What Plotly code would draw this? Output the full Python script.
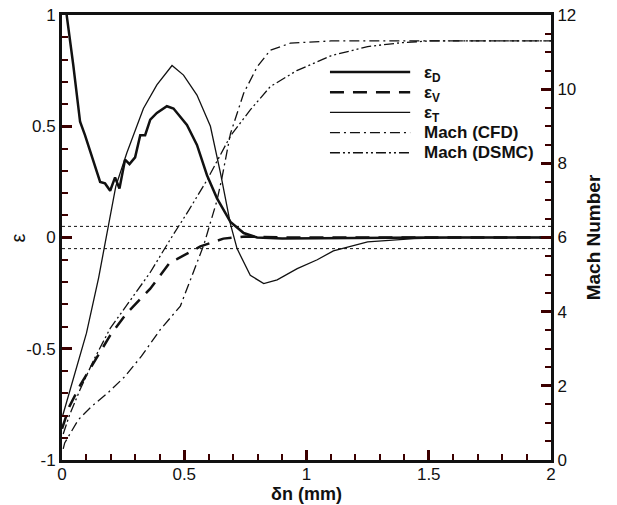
import plotly.graph_objects as go

# ---- data ----
x_D = [0.005, 0.019, 0.046, 0.074, 0.094, 0.115, 0.156, 0.176, 0.197, 0.217, 0.235, 0.258, 0.276,
       0.299, 0.320, 0.340, 0.361, 0.388, 0.429, 0.456, 0.511, 0.552, 0.593, 0.634, 0.689, 0.743,
       0.798, 0.9, 1.0, 1.2, 1.5, 2.0]
eps_D = [1.3, 1.0, 0.776, 0.52, 0.46, 0.39, 0.25, 0.243, 0.21, 0.27, 0.22, 0.35, 0.33,
         0.36, 0.46, 0.46, 0.53, 0.56, 0.59, 0.58, 0.506, 0.416, 0.28, 0.176, 0.07, 0.02,
         0.0, -0.005, -0.004, 0.0, 0.0, 0.0]

x_V = [0.0, 0.03, 0.074, 0.197, 0.265, 0.361, 0.443, 0.47, 0.566, 0.66, 0.75, 0.9, 1.2, 2.0]
eps_V = [-0.86, -0.76, -0.665, -0.44, -0.34, -0.23, -0.11, -0.097, -0.04, -0.005, 0.005, 0.0, 0.0, 0.0]

x_T = [0.003, 0.05, 0.1, 0.15, 0.176, 0.2, 0.22, 0.265, 0.333, 0.388, 0.45, 0.497, 0.552, 0.607,
       0.648, 0.689, 0.716, 0.77, 0.825, 0.88, 0.962, 1.044, 1.11, 1.25, 1.44, 1.6, 2.0]
eps_T = [-0.8, -0.62, -0.43, -0.18, -0.03, 0.12, 0.23, 0.38, 0.58, 0.686, 0.773, 0.73, 0.64, 0.5,
         0.29, 0.06, -0.05, -0.17, -0.207, -0.19, -0.14, -0.1, -0.06, -0.02, -0.005, 0.0, 0.0]

x_cfd = [0.005, 0.011, 0.066, 0.12, 0.189, 0.257, 0.325, 0.40, 0.484, 0.525, 0.58, 0.634, 0.654,
         0.689, 0.743, 0.798, 0.852, 0.934, 1.1, 1.5, 2.0]
M_cfd = [0.3, 0.46, 1.08, 1.44, 1.82, 2.25, 2.8, 3.5, 4.15, 4.85, 5.8, 7.0, 7.6,
         8.8, 9.89, 10.6, 11.05, 11.24, 11.3, 11.3, 11.3]

x_dsmc = [0.005, 0.03, 0.074, 0.13, 0.197, 0.279, 0.36, 0.443, 0.52, 0.593, 0.69, 0.77, 0.852,
          0.96, 1.1, 1.25, 1.385, 1.5, 2.0]
M_dsmc = [0.7, 1.2, 1.9, 2.7, 3.55, 4.3, 5.05, 5.95, 6.75, 7.55, 8.75, 9.44, 10.07,
          10.5, 10.9, 11.15, 11.25, 11.3, 11.3]

band_x = [0.0, 2.0]
band_levels = [0.05, -0.05]

y_ticks = [-1, -0.5, 0, 0.5, 1]
y_ticktext = ["-1", "-0.5", "0", "0.5", "1"]

series_names = ["ε<sub>D</sub>", "ε<sub>V</sub>", "ε<sub>T</sub>", "Mach (CFD)", "Mach (DSMC)"]

FONT = "Liberation Sans, Arial, sans-serif"
INK = "#111111"
TICK = "rgb(60,0,0)"

styles = [
    dict(color=INK, width=2.5),
    dict(color=INK, width=2.5, dash="14px,9px"),
    dict(color=INK, width=1.3),
    dict(color=INK, width=1.3, dash="10px,4px,2px,4px"),
    dict(color=INK, width=1.3, dash="10px,3px,2px,3px,2px,3px"),
]

fig = go.Figure()

for lvl in band_levels:
    fig.add_trace(go.Scatter(x=band_x, y=[lvl, lvl], mode="lines", showlegend=False,
                             line=dict(color=INK, width=1, dash="dot"), hoverinfo="skip"))

series = [(x_D, eps_D, "y"), (x_V, eps_V, "y"), (x_T, eps_T, "y"),
          (x_cfd, M_cfd, "y2"), (x_dsmc, M_dsmc, "y2")]
for (xs, ys, ax), nm, st in zip(series, series_names, styles):
    fig.add_trace(go.Scatter(x=xs, y=ys, mode="lines", name=nm, yaxis=ax, line=st,
                             showlegend=False))

# legend drawn as a key (line samples + labels) in paper coordinates
key_x0, key_x1, key_text_x = 0.548, 0.712, 0.736
key_top, key_step = 0.872, 0.0454
for i, (nm, st) in enumerate(zip(series_names, styles)):
    yk = key_top - i * key_step
    fig.add_shape(type="line", xref="paper", yref="paper", x0=key_x0, x1=key_x1, y0=yk, y1=yk,
                  line=st, opacity=1)
    fig.add_annotation(xref="paper", yref="paper", x=key_text_x, y=yk - (0.004 if i < 3 else 0),
                       text="<b>" + nm + "</b>", showarrow=False, xanchor="left", yanchor="middle",
                       font=dict(family=FONT, size=17, color=INK))

# left axis title
fig.add_annotation(xref="paper", yref="paper", x=-0.09, y=0.5, text="ε", textangle=-90,
                   showarrow=False, xanchor="center", yanchor="middle",
                   font=dict(family=FONT, size=20, color=INK))

axis_common = dict(showgrid=False, zeroline=False, showline=True, linewidth=3, linecolor=INK,
                   ticks="inside", ticklen=10, tickwidth=3, tickcolor=TICK, automargin=False,
                   tickfont=dict(family=FONT, size=17, color=INK))
minor_common = dict(ticks="inside", ticklen=6, tickwidth=1.5, tickcolor=TICK)

fig.update_layout(
    template="simple_white",
    width=617, height=505,
    margin=dict(l=62, r=66, t=15, b=45, autoexpand=False),
    paper_bgcolor="white", plot_bgcolor="white",
    font=dict(family=FONT, size=17, color=INK),
    showlegend=False,
    xaxis=dict(range=[0, 2], tickmode="linear", tick0=0, dtick=0.5, mirror=True,
               ticklabelstandoff=-3,
               minor=dict(dtick=0.1, **minor_common),
               title=dict(text="<b>δn (mm)</b>", font=dict(family=FONT, size=18, color=INK), standoff=0),
               **axis_common),
    yaxis=dict(range=[-1, 1], tickmode="array", tickvals=y_ticks, ticktext=y_ticktext,
               minor=dict(dtick=0.1, **minor_common),
               **axis_common),
    yaxis2=dict(range=[0, 12], overlaying="y", side="right", tickmode="linear", tick0=0, dtick=2,
                minor=dict(dtick=0.5, **minor_common),
                title=dict(text="<b>Mach Number</b>", font=dict(family=FONT, size=19, color=INK), standoff=12),
                **axis_common),
)

fig.write_html("out.html")
